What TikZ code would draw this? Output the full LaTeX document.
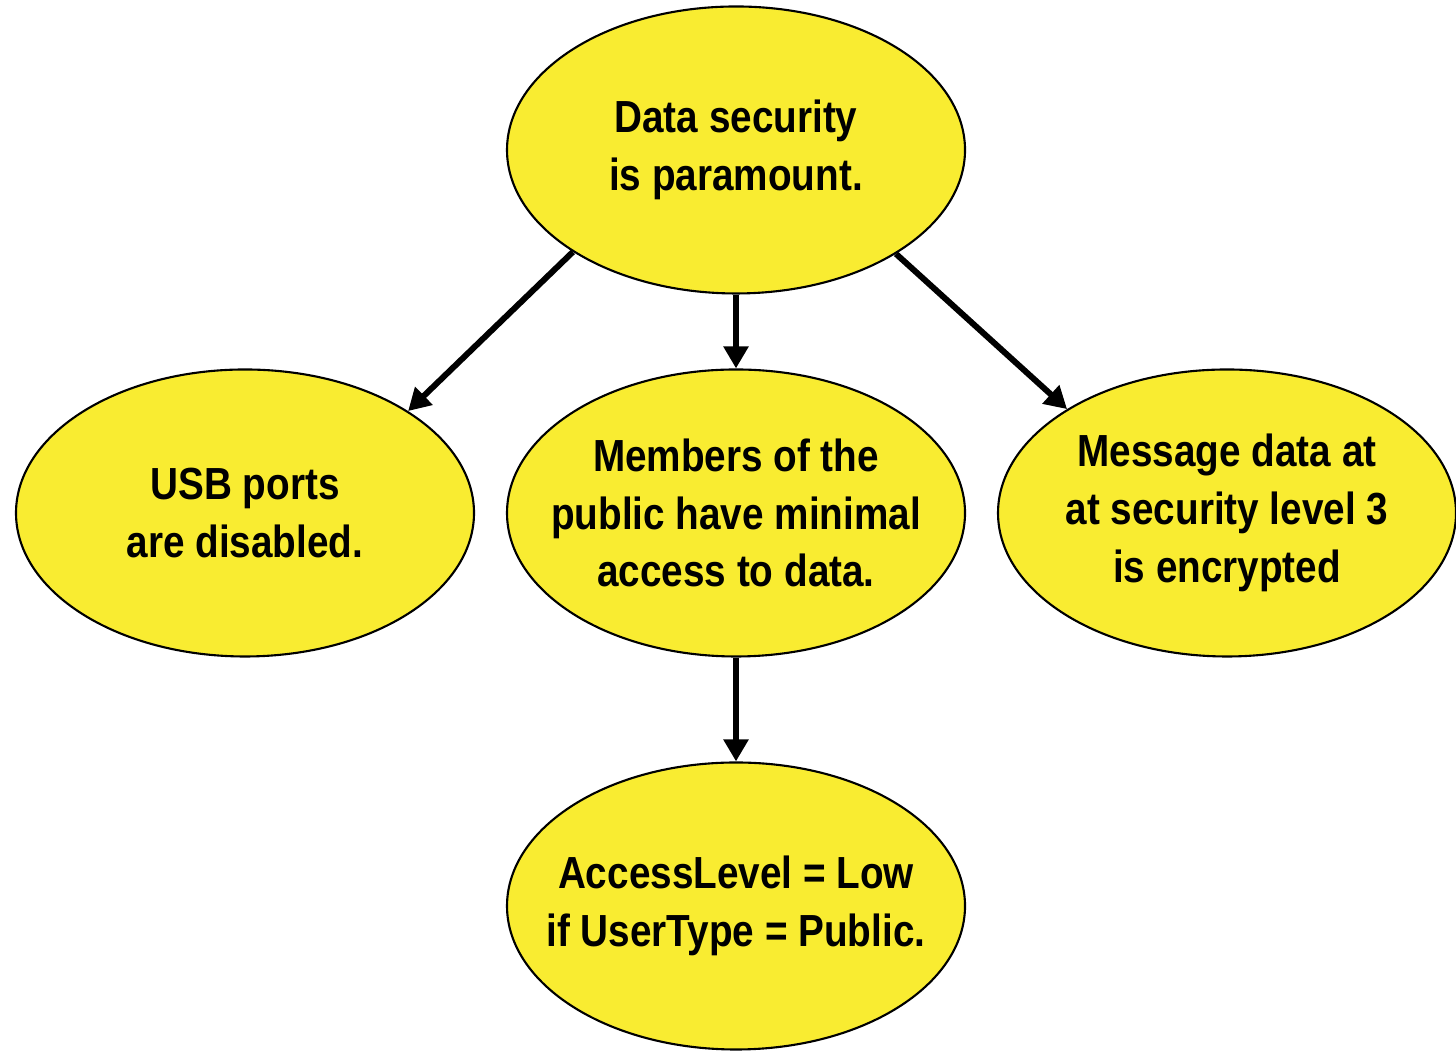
\documentclass[tikz,border=0pt]{standalone}
\usepackage{fontspec}
\setmainfont{Liberation Sans}[FakeStretch=0.86]
\usetikzlibrary{arrows.meta, shapes.geometric}
\definecolor{goalyellow}{RGB}{249,236,49}

\begin{document}
\begin{tikzpicture}[
  goal/.style = {ellipse, draw, line width=0.6pt, fill=goalyellow,
    minimum width=4.58cm, minimum height=2.87cm,
    inner xsep=-0.3cm, inner ysep=0pt, align=center,
    font=\fontsize{12.8}{16.4}\selectfont\bfseries},
  refine/.style = {-{Triangle[length=0.22cm, width=0.24cm]}, line width=0.06cm}]
\useasboundingbox (0,0) rectangle (14.56,10.52);
\node[goal] (top) at (7.36,9.02) {Data security\\ is paramount.};
\node[goal] (usb) at (2.45,5.39) {USB ports\\ are disabled.};
\node[goal] (pub) at (7.36,5.39) {Members of the\\ public have minimal\\ access to data.};
\node[goal] (msg) at (12.27,5.39) {Message data at\\ at security level 3\\ is encrypted};
\node[goal] (acc) at (7.36,1.46) {AccessLevel = Low\\ if UserType = Public.};
\draw[refine] (top.212.5) -- (usb.32.5);
\draw[refine] (top) -- (pub);
\draw[refine] (top.327.5) -- (msg.147.5);
\draw[refine] (pub) -- (acc);
\end{tikzpicture}
\end{document}
